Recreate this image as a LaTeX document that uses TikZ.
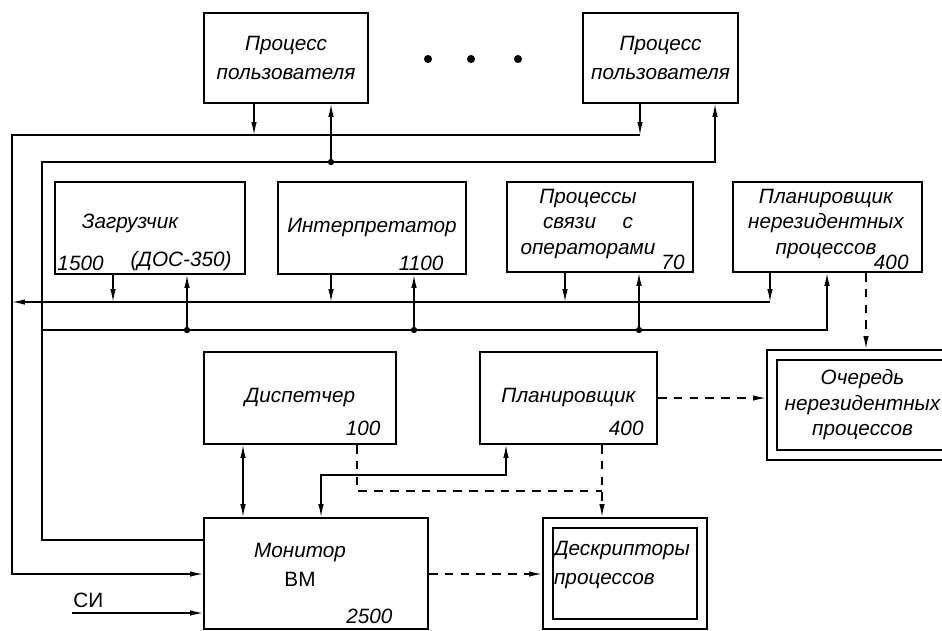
\documentclass[tikz,border=0pt]{standalone}
\usepackage{fontspec}
\setmainfont{Liberation Sans}
\usetikzlibrary{arrows.meta}
\usetikzlibrary{positioning}
\tikzset{>={Latex[length=2.6mm,width=1.1mm]}, % Narrow filled arrow heads
      wh/.style 2 args={ % Box size in pixels of the scan
      minimum width=#1*0.02cm, minimum height=#2*0.02cm},
      txt/.style={ % Italic drafting lettering
      align=center, inner sep=0pt,
      font=\fontsize{11.8}{14.5}\selectfont\itshape},
      box/.style={ % Sets the properties for each program block
      txt, draw, line width=1pt},
      store/.style={ % Data areas get a double frame
      txt, draw, double, double distance=0.16cm, line width=0.04cm, outer sep=0.12cm},
      num/.style={txt, anchor=south east}, % Size numbers in the corner
      link/.style={line width=0.8pt},
      arr/.style={link, ->},
      dsh/.style={link, dash pattern=on 5pt off 4pt},
      dot/.style={circle, fill, inner sep=0pt, minimum size=3.6pt},
      bigdot/.style={circle, fill, inner sep=0pt, minimum size=4.6pt}}

\begin{document}
\begin{tikzpicture}[x=0.02cm, y=-0.02cm]
      \useasboundingbox (0,0) rectangle (942,630);
      % blocks
      \node[box, wh={164}{90}] (up1) at (286,58) {Процесс\\[2pt]пользователя};
      \node[box, wh={155}{90}] (up2) at (660.5,58) {Процесс\\[2pt]пользователя};
      \foreach \x [count=\i] in {428,471,518}
            \node[bigdot] (el\i) at (\x,59) {};
      \node[box, wh={190}{92}] (load) at (150,228) {};
      \node[txt] (loadt) at (130,223) {Загрузчик};
      \node[num, anchor=south west] (c1500) at ([shift={(3,-4)}]load.south west) {1500};
      \node[num] (cdos) at ([shift={(-14,-4)}]load.south east) {(ДОС-350)};
      \node[box, wh={188}{92}] (interp) at (372,228) {Интерпретатор};
      \node[num] (c1100) at ([shift={(-23,-4)}]interp.south east) {1100};
      \node[box, wh={186}{90}] (oper) at (600,227) {};
      \node[txt] (opert) at (588,224) {Процессы\\связи\quad\ с\\операторами};
      \node[num] (c70) at ([shift={(-9,-3)}]oper.south east) {70};
      \node[box, wh={189}{90}] (nres) at (827.5,227) {};
      \node[txt] (nrest) at (826,224) {Планировщик\\нерезидентных\\процессов};
      \node[num] (c400a) at ([shift={(-14,-3)}]nres.south east) {400};
      \node[box, wh={192}{92}] (disp) at (300,398) {Диспетчер};
      \node[num] (c100) at ([shift={(-16,-9)}]disp.south east) {100};
      \node[box, wh={177}{92}] (plan) at (568.5,398) {Планировщик};
      \node[num] (c400b) at ([shift={(-14,-9)}]plan.south east) {400};
      \node[store, wh={181}{100}] (queue) at (862.5,405) {Очередь\\нерезидентных\\процессов};
      \node[box, wh={224}{111}] (mon) at (316,573.5) {};
      \node[txt] (mont) at (300,565) {Монитор\\[2pt]{\upshape ВМ}};
      \node[num] (c2500) at ([shift={(-36,-6)}]mon.south east) {2500};
      \node[store, wh={154}{101}] (desc) at (625,573.5) {};
      \node[txt, align=left] (desct) at (622,565) {Дескрипторы\\[2pt]процессов};

      % outer bus: user processes to monitor
      \coordinate (o1) at (254,135);
      \coordinate (o2) at (640,135);
      \coordinate (oL) at (12,135);
      \coordinate (oB) at (12,574);
      \draw[arr] (up1.south -| o1) -- (o1);
      \draw[arr] (up2.south -| o2) -- (o2);
      \draw[arr] (o2) -- (oL) -- (oB) -- (mon.west |- oB);
      % inner bus: monitor to user processes
      \coordinate (i0) at (42,540);
      \coordinate (iL) at (42,162);
      \coordinate (i1) at (331,162);
      \coordinate (i2) at (715,162);
      \draw[arr] (mon.west |- i0) -- (i0) -- (iL) -- (i2) -- (up2.south -| i2);
      \draw[arr] (i1) -- (up1.south -| i1);
      \node[dot] (di1) at (i1) {};

      % system processes
      \coordinate (a0) at (12,302);
      \coordinate (a1) at (113,302);
      \coordinate (a2) at (331,302);
      \coordinate (a3) at (565,302);
      \coordinate (a4) at (770,302);
      \draw[arr] (load.south -| a1) -- (a1);
      \draw[arr] (interp.south -| a2) -- (a2);
      \draw[arr] (oper.south -| a3) -- (a3);
      \draw[arr] (nres.south -| a4) -- (a4);
      \draw[arr] (a4) -- (a0);
      \coordinate (b0) at (42,330);
      \coordinate (b1) at (187,330);
      \coordinate (b2) at (414,330);
      \coordinate (b3) at (639,330);
      \coordinate (b4) at (827,330);
      \draw[arr] (b0) -- (b4) -- (nres.south -| b4);
      \draw[arr] (b1) -- (load.south -| b1);
      \draw[arr] (b2) -- (interp.south -| b2);
      \draw[arr] (b3) -- (oper.south -| b3);
      \node[dot] (db1) at (b1) {};
      \node[dot] (db2) at (b2) {};
      \node[dot] (db3) at (b3) {};

      % queue of non-resident processes
      \coordinate (q1) at (866,0);
      \draw[arr, dsh] (nres.south -| q1) -- (queue.north -| q1);
      \draw[arr, dsh] (plan.east) -- (queue.west |- plan.east);

      % dispatcher, scheduler, monitor
      \coordinate (m0) at (243,0);
      \draw[link, <->] (disp.south -| m0) -- (mon.north -| m0);
      \coordinate (m1) at (321,475);
      \coordinate (m2) at (506,475);
      \draw[link, <->] (mon.north -| m1) -- (m1) -- (m2) -- (plan.south -| m2);
      \coordinate (k1) at (357,491);
      \coordinate (k2) at (602,491);
      \draw[dsh] (disp.south -| k1) -- (k1) -- (k2);
      \draw[arr, dsh] (plan.south -| k2) -- (desc.north -| k2);
      \draw[arr, dsh] (mon.east |- oB) -- (desc.west |- oB);

      % interrupts
      \coordinate (si) at (72,613);
      \draw[arr] (si) -- (mon.west |- si);
      \node[txt, font=\fontsize{11.8}{15}\selectfont, anchor=south west] (silbl) at ([shift={(1,-5)}]si) {СИ};
\end{tikzpicture}
\end{document}
